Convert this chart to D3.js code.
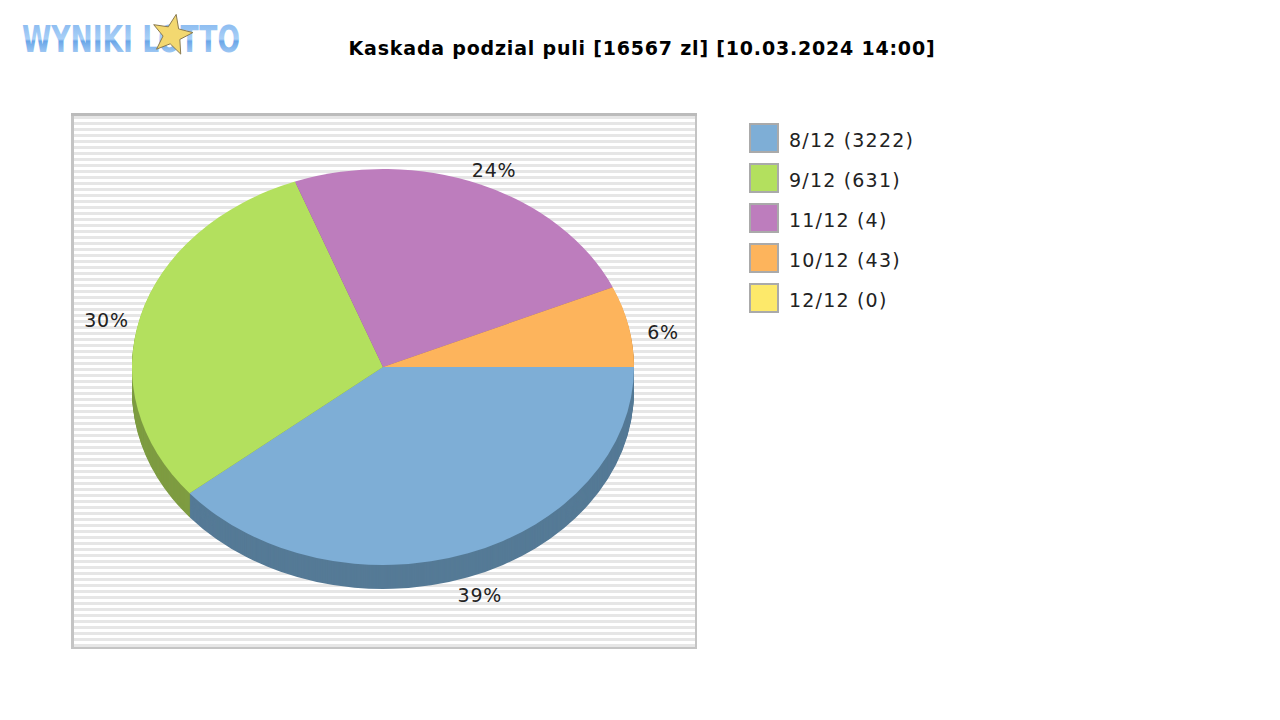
<!DOCTYPE html><html><head><meta charset="utf-8"><script src="https://cdn.jsdelivr.net/npm/d3@7"></script>
<style>body{margin:0;background:#fff}</style></head><body><svg id="c" width="1280" height="720"></svg><script>
const categories=["8/12 (3222)","9/12 (631)","11/12 (4)","10/12 (43)","12/12 (0)"];
const values=[39.0,30.3,24.1,6.6,0];
const labels=["39%","30%","24%","6%",""];
const colors=["#7eaed6","#b3e05e","#bd7dbd","#fdb45c","#fde96a"];
const sideColors=["#557a96","#7e9c42","#845784","#b17e40","#b1a34a"];
const svg=d3.select("#c");
// logo
const defs=svg.append("defs");
const g1=defs.append("linearGradient").attr("id","lg").attr("x1",0).attr("x2",0).attr("y1",0).attr("y2",1);
g1.append("stop").attr("offset","0").attr("stop-color","#7fb3ee");
g1.append("stop").attr("offset","0.5").attr("stop-color","#a9d0f7");
g1.append("stop").attr("offset","0.55").attr("stop-color","#6aa6e8");
g1.append("stop").attr("offset","1").attr("stop-color","#c4e0fb");
svg.append("text").attr("x",22).attr("y",52).attr("font-family","DejaVu Sans Condensed").attr("font-weight","bold").attr("font-size",38).attr("fill","url(#lg)").attr("textLength",218).attr("lengthAdjust","spacingAndGlyphs").text("WYNIKI LOTTO");
const star=d3.range(10).map(i=>{const a=-Math.PI/2+i*Math.PI/5+0.2,r=i%2?9:21;return [172+r*Math.cos(a),35+r*Math.sin(a)]});
svg.append("polygon").attr("points",star.map(p=>p.join(",")).join(" ")).attr("fill","#f3d870").attr("stroke","#8a7a50").attr("stroke-width",1);
// title
svg.append("text").attr("x",642).attr("y",55).attr("text-anchor","middle").attr("font-family","DejaVu Sans").attr("font-weight","bold").attr("font-size",19).attr("letter-spacing",0.8).text("Kaskada podzial puli [16567 zl] [10.03.2024 14:00]");
// plot box
const px=71,py=113,pw=626,ph=536;
svg.append("rect").attr("x",px).attr("y",py).attr("width",pw).attr("height",ph).attr("fill","#ffffff");
const sy=d3.range(py+3,py+ph,6);
svg.selectAll(".st").data(sy).join("rect").attr("x",px).attr("width",pw).attr("y",d=>d).attr("height",3).attr("fill","#e6e6e6");
svg.append("rect").attr("x",px+1).attr("y",py+1).attr("width",pw-2).attr("height",ph-2).attr("fill","none").attr("stroke","#c4c4c4").attr("stroke-width",2);
svg.append("rect").attr("x",px).attr("y",py).attr("width",3).attr("height",ph).attr("fill","#c4c4c4");
svg.append("rect").attr("x",px).attr("y",py).attr("width",pw).attr("height",3).attr("fill","#bbbbbb");
// pie
const cx=383,cy=367,rx=251,ry=198,depth=24;
const pieData=d3.pie().sort(null).startAngle(Math.PI/2).endAngle(Math.PI/2+2*Math.PI)(values);
const arc=d3.arc().innerRadius(0).outerRadius(rx);
for(let d=depth;d>0;d-=1){
 const gg=svg.append("g").attr("transform",`translate(${cx},${cy+d}) scale(1,${ry/rx})`);
 gg.selectAll("path").data(pieData).join("path").attr("d",arc).attr("fill",(p,i)=>sideColors[i]);
}
const topG=svg.append("g").attr("transform",`translate(${cx},${cy}) scale(1,${ry/rx})`);
topG.selectAll("path").data(pieData).join("path").attr("d",arc).attr("fill",(p,i)=>colors[i]);
svg.selectAll(".lb").data(pieData).join("text").attr("font-family","DejaVu Sans").attr("font-size",19).attr("letter-spacing",0.8).attr("fill","#222").attr("text-anchor","middle")
 .attr("x",p=>{const a=(p.startAngle+p.endAngle)/2;return cx+rx*1.14*Math.sin(a)})
 .attr("y",p=>{const a=(p.startAngle+p.endAngle)/2;const c=-Math.cos(a);return cy+ry*1.14*c+18+(c>0?depth*0.2:0)})
 .text((p,i)=>labels[i]);
// legend
const lg=svg.append("g");
categories.forEach((c,i)=>{
 const y=123+i*40;
 lg.append("rect").attr("x",750).attr("y",y+1).attr("width",28).attr("height",28).attr("fill",colors[i]).attr("stroke","#aaaaaa").attr("stroke-width",2);
 lg.append("text").attr("x",789).attr("y",y+24).attr("font-family","DejaVu Sans").attr("font-size",19).attr("letter-spacing",1.2).attr("fill","#222").text(c);
});
</script></body></html>
